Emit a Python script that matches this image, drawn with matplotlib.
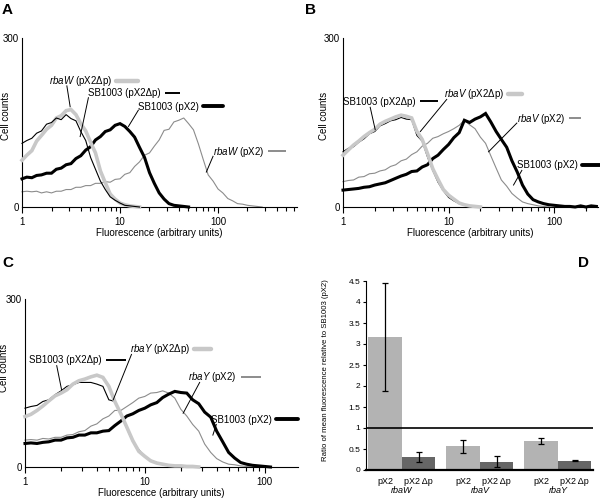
import matplotlib
matplotlib.use("Agg")
import matplotlib.pyplot as plt
from matplotlib.lines import Line2D
from matplotlib.ticker import FixedLocator, FixedFormatter, LogLocator, NullFormatter

plt.rcParams['font.family'] = ['Liberation Sans', 'DejaVu Sans']
plt.rcParams['mathtext.fontset'] = 'custom'
plt.rcParams['mathtext.it'] = 'Liberation Sans:italic'
plt.rcParams['mathtext.rm'] = 'Liberation Sans'

# fluorescence bins (log spaced, 0.05 decade)
fl = [1.00, 1.12, 1.26, 1.41, 1.58, 1.78, 2.00, 2.24, 2.51, 2.82, 3.16, 3.55, 3.98, 4.47,
      5.01, 5.62, 6.31, 7.08, 7.94, 8.91, 10.0, 11.2, 12.6, 14.1, 15.8, 17.8, 20.0, 22.4,
      25.1, 28.2, 31.6, 35.5, 39.8, 44.7, 50.1, 56.2, 63.1, 70.8, 79.4, 89.1, 100, 112,
      126, 141, 158, 178, 200, 224, 251, 282, 316, 355, 398, 447, 501, 562, 631]

# panel A - rbaW
a_rbaW_dp = [83, 92, 100, 117, 127, 138, 145, 158, 162, 171, 173, 164, 148, 135, 115, 96,
             64, 43, 23, 14, 7, 4, 2, 1, 0]
a_sb_dp = [113, 118, 122, 131, 135, 147, 150, 158, 155, 164, 157, 153, 134, 118, 88, 67,
           46, 31, 18, 12, 7, 3, 2, 1, 0]
a_sb = [50, 53, 52, 56, 57, 60, 60, 67, 69, 75, 77, 86, 91, 101, 107, 119, 125, 134, 137,
        145, 148, 143, 134, 124, 106, 88, 61, 42, 25, 14, 6, 3, 2, 1, 0]
a_rbaW = [27, 28, 27, 28, 25, 27, 25, 28, 28, 31, 31, 35, 35, 38, 38, 42, 42, 45, 44, 49,
          50, 58, 61, 72, 80, 92, 96, 108, 119, 136, 138, 151, 154, 158, 148, 137, 112, 84,
          57, 46, 32, 25, 15, 11, 6, 5, 3, 2, 1, 0]

# panel B - rbaV
b_sb_dp = [98, 104, 107, 115, 121, 130, 134, 144, 148, 153, 155, 159, 156, 155, 127, 117,
           89, 65, 44, 29, 17, 11, 6, 3, 1, 0]
b_rbaV_dp = [92, 101, 110, 117, 125, 132, 138, 147, 152, 156, 160, 163, 161, 158, 134, 120,
             95, 68, 49, 31, 21, 14, 7, 4, 2, 1, 0]
b_rbaV = [45, 47, 48, 53, 54, 59, 60, 64, 66, 72, 75, 82, 85, 93, 98, 108, 113, 122, 125,
          130, 134, 139, 145, 154, 146, 139, 124, 113, 91, 69, 48, 37, 24, 16, 9, 6, 4, 2,
          1, 0]
b_sb = [30, 31, 32, 33, 35, 36, 39, 41, 43, 47, 51, 55, 58, 63, 64, 71, 75, 86, 92, 102,
        111, 123, 132, 154, 150, 156, 160, 166, 151, 134, 120, 106, 82, 62, 39, 23, 13, 9,
        6, 4, 3, 2, 1, 1, 0, 2, 0, 2, 1]

# panel C - rbaY
c_sb_dp = [105, 108, 110, 117, 120, 129, 136, 144, 147, 151, 151, 151, 148, 144, 120, 117,
           95, 69, 45, 31, 18, 12, 8, 4, 3, 1, 0]
c_rbaY_dp = [90, 94, 101, 109, 118, 127, 132, 138, 148, 154, 157, 161, 164, 160, 144, 117,
             95, 71, 47, 28, 19, 11, 7, 5, 3, 2, 2, 1, 1, 0]
c_rbaY = [48, 49, 48, 51, 50, 53, 53, 57, 58, 63, 65, 73, 77, 86, 91, 101, 101, 108, 115,
          123, 126, 132, 133, 136, 132, 123, 103, 91, 76, 64, 41, 26, 15, 9, 5, 4, 2, 1, 0]
c_sb = [42, 43, 42, 44, 45, 48, 48, 52, 53, 57, 57, 61, 61, 64, 65, 74, 82, 91, 95, 101,
        105, 111, 115, 124, 130, 135, 133, 132, 120, 113, 98, 89, 64, 45, 26, 16, 8, 5, 3,
        2, 1, 0]

# panel D - mean fluorescence ratios
genes = ['rbaW', 'rbaV', 'rbaY']
ratio_px2 = [3.17, 0.56, 0.69]
err_px2 = [1.28, 0.15, 0.07]
ratio_dp = [0.30, 0.20, 0.22]
err_dp = [0.12, 0.13, 0.01]
d_yticks = [0, 0.5, 1, 1.5, 2, 2.5, 3, 3.5, 4, 4.5]
d_ylabels = ['0', '0.5', '1', '1.5', '2', '2.5', '3', '3.5', '4', '4.5']

GREY_THICK = dict(color='#c8c8c8', lw=2.6)
GREY_THIN = dict(color='#8c8c8c', lw=0.8)
BLACK_THICK = dict(color='black', lw=2.2)
BLACK_THIN = dict(color='black', lw=0.8)

fig = plt.figure(figsize=(6, 4.99), dpi=100)
axA = fig.add_axes([22 / 600, 1 - 207 / 499, 275 / 600, 169 / 499])
axB = fig.add_axes([343 / 600, 1 - 207 / 499, 255 / 600, 169 / 499])
axC = fig.add_axes([25 / 600, 1 - 467 / 499, 273 / 600, 168 / 499])
axD = fig.add_axes([366 / 600, 1 - 470 / 499, 227 / 600, 189 / 499])


def hist_axes(ax, xmax, lab_x, lab_y):
    ax.set_xscale('log')
    ax.set_xlim(1, xmax)
    ax.set_ylim(0, 300)
    ax.set_yticks([0, 300])
    ax.set_yticklabels(['0', '300'])
    ax.tick_params(axis='y', length=0, pad=2, labelsize=7)
    ax.xaxis.set_major_locator(FixedLocator([1, 10, 100]))
    ax.xaxis.set_major_formatter(FixedFormatter(['1', '10', '100']))
    ax.xaxis.set_minor_locator(LogLocator(base=10, subs=range(2, 10), numticks=20))
    ax.xaxis.set_minor_formatter(NullFormatter())
    ax.tick_params(axis='x', which='major', length=4, width=0.8, labelsize=7, pad=3)
    ax.tick_params(axis='x', which='minor', length=3, width=0.8)
    for s in ['top', 'right']:
        ax.spines[s].set_visible(False)
    for s in ['left', 'bottom']:
        ax.spines[s].set_linewidth(0.8)
    ax.set_ylabel('Cell counts', fontsize=7)
    ax.yaxis.set_label_coords(lab_x, lab_y)
    ax.set_xlabel('Fluorescence (arbitrary units)', fontsize=7, labelpad=1)


def curve(ax, ys, style, z):
    ax.plot(fl[:len(ys)], ys, solid_joinstyle='miter', zorder=z, clip_on=False, **style)


hist_axes(axA, 640, -0.04, 0.54)
hist_axes(axB, 260, -0.054, 0.54)
hist_axes(axC, 190, -0.059, 0.59)

curve(axA, a_rbaW, GREY_THIN, 2)
curve(axA, a_sb, BLACK_THICK, 3)
curve(axA, a_rbaW_dp, GREY_THICK, 4)
curve(axA, a_sb_dp, BLACK_THIN, 5)

curve(axB, b_rbaV, GREY_THIN, 2)
curve(axB, b_sb, BLACK_THICK, 3)
curve(axB, b_sb_dp, BLACK_THIN, 4)
curve(axB, b_rbaV_dp, GREY_THICK, 5)

curve(axC, c_rbaY, GREY_THIN, 2)
curve(axC, c_sb, BLACK_THICK, 3)
curve(axC, c_sb_dp, BLACK_THIN, 4)
curve(axC, c_rbaY_dp, GREY_THICK, 5)

# labels: text, text pos, leader line from/to, swatch style, swatch length (px)
notes = {
    axA: [(r'$\it{rbaW}$ (pX2Δp)', 1.87, 223, 2.87, 215, 3.10, 178, GREY_THICK, 22),
          ('SB1003 (pX2Δp)', 4.76, 202, 4.76, 194, 3.92, 125, BLACK_THIN, 15),
          ('SB1003 (pX2)', 15.4, 178, 15.4, 172, 12.2, 143, BLACK_THICK, 20),
          (r'$\it{rbaW}$ (pX2)', 89, 98, 89, 90, 76, 62, GREY_THIN, 18)],
    axB: [('SB1003 (pX2Δp)', 1.01, 187, 1.81, 177, 2.02, 137, BLACK_THIN, 18),
          (r'$\it{rbaV}$ (pX2Δp)', 8.97, 200, 9.6, 191, 5.4, 134, GREY_THICK, 14),
          (r'$\it{rbaV}$ (pX2)', 44.3, 157, 44.3, 149, 23.9, 98, GREY_THIN, 12),
          ('SB1003 (pX2)', 44.3, 74, 49.4, 65, 41.2, 39, BLACK_THICK, 22)],
    axC: [('SB1003 (pX2Δp)', 1.09, 191, 1.84, 181, 2.02, 138, BLACK_THIN, 20),
          (r'$\it{rbaY}$ (pX2Δp)', 7.5, 210, 7.74, 201, 5.45, 120, GREY_THICK, 17),
          (r'$\it{rbaY}$ (pX2)', 23, 160, 28.7, 151, 20.9, 96, GREY_THIN, 20),
          ('SB1003 (pX2)', 36, 84, 39.5, 76, 37, 57, BLACK_THICK, 22)],
}

swatches = []
for ax, items in notes.items():
    for lab, tx, ty, x1, y1, x2, y2, st, ln in items:
        t = ax.text(tx, ty, lab, fontsize=7, ha='left', va='center', zorder=10)
        ax.plot([x1, x2], [y1, y2], color='black', lw=0.7, zorder=9)
        swatches.append((t, st, ln))

fig.canvas.draw()
W, H = fig.bbox.width, fig.bbox.height
for t, st, ln in swatches:
    bb = t.get_window_extent()
    x0 = bb.x1 + 4
    ym = (bb.y0 + bb.y1) / 2 + 0.5
    cap = 'round' if st['lw'] > 2 else 'butt'
    fig.add_artist(Line2D([x0 / W, (x0 + ln) / W], [ym / H, ym / H], transform=fig.transFigure,
                          color=st['color'], lw=st['lw'] + 0.6, solid_capstyle=cap))

# panel D
w = 0.43
xs = list(range(len(genes)))
axD.bar([x - w / 2 for x in xs], ratio_px2, w, color='#b3b3b3', yerr=err_px2, capsize=2,
        error_kw=dict(lw=0.9, capthick=0.9, ecolor='black'), zorder=2)
axD.bar([x + w / 2 for x in xs], ratio_dp, w, color='#666666', yerr=err_dp, capsize=2,
        error_kw=dict(lw=0.9, capthick=0.9, ecolor='black'), zorder=2)
axD.axhline(1, color='black', lw=1.2, zorder=3)
axD.set_xlim(-0.46, 2.45)
axD.set_ylim(0, 4.5)
axD.yaxis.set_major_locator(FixedLocator(d_yticks))
axD.yaxis.set_major_formatter(FixedFormatter(d_ylabels))
axD.tick_params(axis='y', length=2, width=0.8, labelsize=6, pad=2)
tick_pos = []
tick_lab = []
for x in xs:
    tick_pos += [x - w / 2, x + w / 2]
    tick_lab += ['pX2', 'pX2\u2009Δp']
axD.set_xticks(tick_pos)
axD.set_xticklabels(tick_lab)
axD.tick_params(axis='x', length=0, labelsize=6.5, pad=5)
for x, g in zip(xs, genes):
    axD.annotate(g, xy=(x, 0), xycoords=('data', 'axes fraction'), xytext=(0, -15),
                 textcoords='offset points', ha='center', va='center', fontsize=6.5,
                 style='italic')
for s in ['top', 'right']:
    axD.spines[s].set_visible(False)
axD.spines['left'].set_linewidth(0.8)
axD.spines['bottom'].set_linewidth(1.6)
axD.set_ylabel('Ratio of mean fluorescence relative to SB1003 (pX2)', fontsize=5.6)
axD.yaxis.set_label_coords(-0.165, 0.53)

# panel letters
for lab, px, py in [('A', 2, 3), ('B', 305, 3), ('C', 2, 256), ('D', 578, 256)]:
    fig.text(px / 600, 1 - py / 499, lab, fontsize=11, fontweight='bold', ha='left', va='top')

fig.savefig('out.png', dpi=100)
